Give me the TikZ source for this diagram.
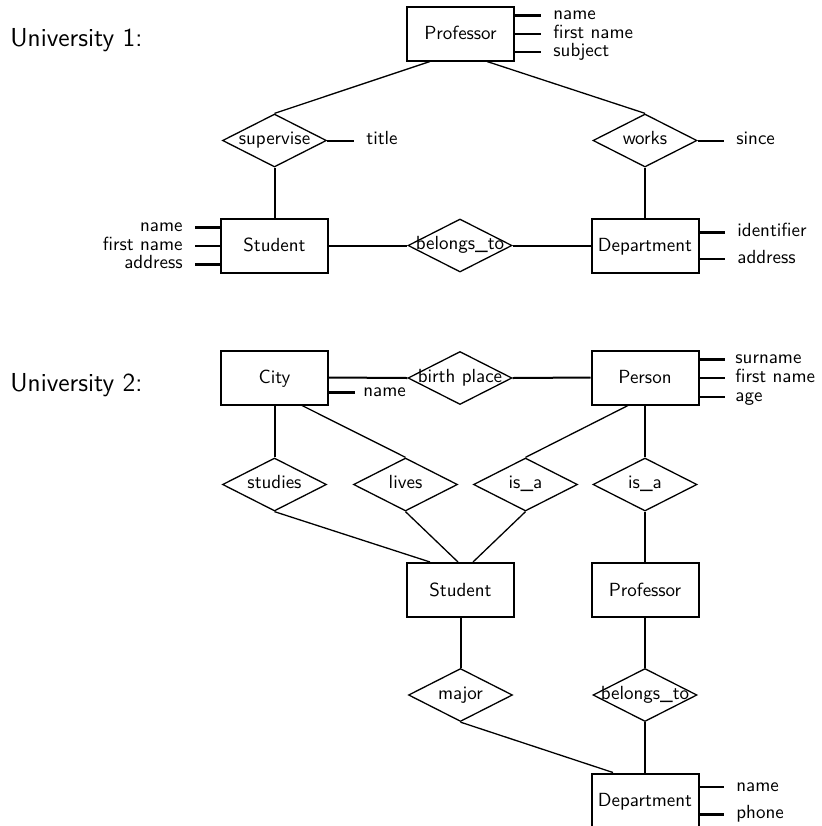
\documentclass[tikz,border=0pt]{standalone}
\usetikzlibrary{shapes.geometric,calc}
\newcommand\rtext[1]{\makebox[0pt]{#1}}
\begin{document}
\begin{tikzpicture}[x=0.5pt,y=-0.5pt,
  every node/.style={font=\sffamily\fontsize{9.5}{11}\selectfont},
  entity/.style={draw,line width=1pt,rectangle,minimum width=53.5pt,minimum height=27pt,inner sep=0pt,text height=1.5ex,text depth=0pt},
  rel/.style={draw,line width=0.65pt,diamond,minimum width=52pt,minimum height=26.5pt,inner sep=0pt,text height=1ex,text depth=0pt},
  keyattr/.style={line width=1.5pt},
  attr/.style={line width=1pt},
  lab/.style={inner xsep=6pt,inner ysep=0pt,text height=1ex,text depth=0pt},
  link/.style={line width=1pt},
  slink/.style={line width=0.65pt},
  uni/.style={anchor=base west,inner sep=0pt,font=\sffamily\fontsize{13}{15}\selectfont}
]
\useasboundingbox (0,0) rectangle (821,826);

% ---------- University 1 ----------
\node[uni] (u1) at (10,46) {University 1:};
\node[entity] (prof1) at (460.5,33.5) {Professor};
\node[rel] (sup) at (274.5,140.5) {\rtext{supervise}};
\node[rel] (works) at (645,140.5) {\rtext{works}};
\node[entity] (stud1) at (274.5,245.5) {Student};
\node[rel] (bel1) at (460,245.5) {\rtext{belongs\_to}};
\node[entity] (dept1) at (645,245.5) {Department};

\draw[slink] ([xshift=-15.25pt]prof1.south) -- (sup.north);
\draw[slink] ([xshift=13.25pt]prof1.south) -- (works.north);
\draw[link] (sup.south) -- (stud1.north);
\draw[link] (works.south) -- (dept1.north);
\draw[link] (stud1.east) -- (bel1.west);
\draw[link] (bel1.east) -- (dept1.west);

\node[lab,anchor=west] (title) at (354,140.5) {title};
\draw[attr] (sup.east) -- (title.west);
\node[lab,anchor=west] (since) at (724,140.5) {since};
\draw[attr] (works.east) -- (since.west);

\node[lab,anchor=west] (p1a) at (541,15) {name};
\node[lab,anchor=west] (p1b) at (541,34) {first name};
\node[lab,anchor=west] (p1c) at (541,52) {subject};
\draw[keyattr] (prof1.east |- p1a.west) -- (p1a.west);
\draw[attr] (prof1.east |- p1b.west) -- (p1b.west);
\draw[attr] (prof1.east |- p1c.west) -- (p1c.west);

\node[lab,anchor=east] (s1a) at (195,227) {name};
\node[lab,anchor=east] (s1b) at (195,246) {first name};
\node[lab,anchor=east] (s1c) at (195,264) {address};
\draw[keyattr] (s1a.east) -- (stud1.west |- s1a.east);
\draw[attr] (s1b.east) -- (stud1.west |- s1b.east);
\draw[keyattr] (s1c.east) -- (stud1.west |- s1c.east);

\node[lab,anchor=west] (d1a) at (725,232) {identifier};
\node[lab,anchor=west] (d1b) at (725,259) {address};
\draw[keyattr] (dept1.east |- d1a.west) -- (d1a.west);
\draw[attr] (dept1.east |- d1b.west) -- (d1b.west);

% ---------- University 2 ----------
\node[uni] (u2) at (10,391) {University 2:};
\node[entity] (city) at (274.5,377.5) {City};
\node[rel] (birth) at (460,378) {\rtext{birth place}};
\node[entity] (person) at (645,377.5) {Person};
\node[rel] (studies) at (274.5,484.5) {\rtext{studies}};
\node[rel] (lives) at (405.5,484.5) {\rtext{lives}};
\node[rel] (isa1) at (525.5,484.5) {\rtext{is\_a}};
\node[rel] (isa2) at (645,484.5) {\rtext{is\_a}};
\node[entity] (stud2) at (460.5,590) {Student};
\node[entity] (prof2) at (645,590) {Professor};
\node[rel] (major) at (460.5,695) {\rtext{major}};
\node[rel] (bel2) at (645,695) {\rtext{belongs\_to}};
\node[entity] (dept2) at (645,800.5) {Department};

\draw[link] (city.east) -- (birth.west);
\draw[link] (birth.east) -- (person.west);
\draw[link] (city.south) -- (studies.north);
\draw[slink] ([xshift=13.75pt]city.south) -- (lives.north);
\draw[slink] ([xshift=-8.5pt]person.south) -- (isa1.north);
\draw[link] (person.south) -- (isa2.north);
\draw[link] (isa2.south) -- (prof2.north);
\draw[slink] (studies.south) -- ([xshift=-15.25pt]stud2.north);
\draw[slink] (lives.south) -- ([xshift=-1.25pt]stud2.north);
\draw[slink] (isa1.south) -- ([xshift=6.25pt]stud2.north);
\draw[link] (stud2.south) -- (major.north);
\draw[link] (prof2.south) -- (bel2.north);
\draw[slink] (major.south) -- ([xshift=-16pt]dept2.north);
\draw[link] (bel2.south) -- (dept2.north);

\node[lab,anchor=west,inner xsep=4pt] (cn) at (355,392) {name};
\draw[keyattr] (city.east |- cn.west) -- (cn.west);

\node[lab,anchor=west,inner xsep=5pt] (pa) at (725,359) {surname};
\node[lab,anchor=west,inner xsep=5pt] (pb) at (725,378) {first name};
\node[lab,anchor=west,inner xsep=5pt] (pc) at (725,397) {age};
\draw[keyattr] (person.east |- pa.west) -- (pa.west);
\draw[attr] (person.east |- pb.west) -- (pb.west);
\draw[attr] (person.east |- pc.west) -- (pc.west);

\node[lab,anchor=west] (d2a) at (724,787) {name};
\node[lab,anchor=west] (d2b) at (724,814) {phone};
\draw[attr] (dept2.east |- d2a.west) -- (d2a.west);
\draw[keyattr] (dept2.east |- d2b.west) -- (d2b.west);
\end{tikzpicture}
\end{document}
